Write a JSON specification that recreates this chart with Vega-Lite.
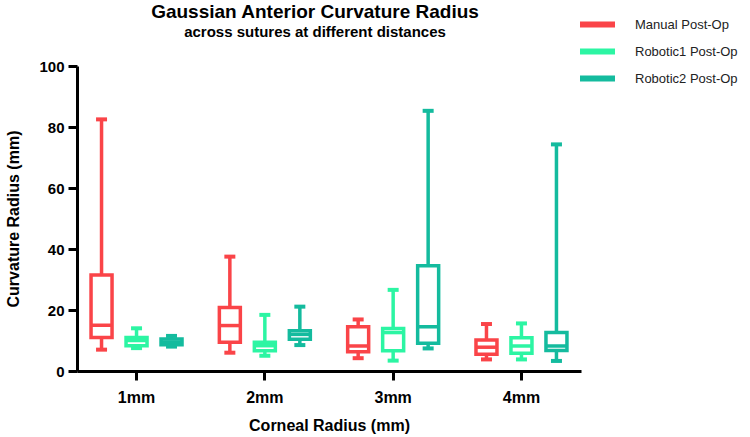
{
  "$schema": "https://vega.github.io/schema/vega-lite/v6.json",
  "autosize": "none",
  "width": 504,
  "height": 305,
  "padding": {"left": 77, "top": 66, "right": 169, "bottom": 66},
  "background": "white",
  "title": {
    "text": "Gaussian Anterior Curvature Radius",
    "subtitle": "across sutures at different distances",
    "anchor": "middle",
    "dx": -14,
    "offset": -33,
    "font": "Liberation Sans",
    "fontSize": 19,
    "fontWeight": "bold",
    "color": "black",
    "subtitleFont": "Liberation Sans",
    "subtitleFontSize": 15,
    "subtitleFontWeight": "bold",
    "subtitleColor": "black",
    "subtitlePadding": 3
  },
  "config": {
    "view": {"stroke": null},
    "font": "Liberation Sans"
  },
  "data": {
    "values": [
      {"dist": "1mm", "group": "Manual Post-Op", "min": 7, "q1": 11, "median": 15, "q3": 31.5, "max": 82.5},
      {"dist": "1mm", "group": "Robotic1 Post-Op", "min": 7.5, "q1": 8.3, "median": 10, "q3": 11, "max": 14},
      {"dist": "1mm", "group": "Robotic2 Post-Op", "min": 8, "q1": 8.6, "median": 9.5, "q3": 10.5, "max": 11.5},
      {"dist": "2mm", "group": "Manual Post-Op", "min": 6, "q1": 9.4, "median": 14.9, "q3": 20.8, "max": 37.5},
      {"dist": "2mm", "group": "Robotic1 Post-Op", "min": 5, "q1": 6.6, "median": 8.3, "q3": 9.4, "max": 18.4},
      {"dist": "2mm", "group": "Robotic2 Post-Op", "min": 8.5, "q1": 10.4, "median": 12, "q3": 13.2, "max": 21.1},
      {"dist": "3mm", "group": "Manual Post-Op", "min": 4.2, "q1": 6.3, "median": 8.2, "q3": 14.5, "max": 16.9},
      {"dist": "3mm", "group": "Robotic1 Post-Op", "min": 3.4, "q1": 6.6, "median": 12.6, "q3": 13.9, "max": 26.6},
      {"dist": "3mm", "group": "Robotic2 Post-Op", "min": 7.4, "q1": 9.1, "median": 14.5, "q3": 34.5, "max": 85.3},
      {"dist": "4mm", "group": "Manual Post-Op", "min": 3.8, "q1": 5.5, "median": 7.8, "q3": 10.2, "max": 15.4},
      {"dist": "4mm", "group": "Robotic1 Post-Op", "min": 3.8, "q1": 5.8, "median": 8.2, "q3": 10.9, "max": 15.6},
      {"dist": "4mm", "group": "Robotic2 Post-Op", "min": 3.3, "q1": 6.7, "median": 8.2, "q3": 12.6, "max": 74.3}
    ]
  },
  "encoding": {
    "x": {
      "field": "dist",
      "type": "nominal",
      "scale": {"paddingInner": 0.1, "paddingOuter": 0.014},
      "axis": {
        "title": "Corneal Radius (mm)",
        "titleFontSize": 16,
        "titleFontWeight": "bold",
        "titleColor": "black",
        "titlePadding": 12,
        "labelAngle": 0,
        "labelFontSize": 16,
        "labelFontWeight": "bold",
        "labelColor": "black",
        "labelPadding": 9,
        "domainColor": "black",
        "domainWidth": 3,
        "tickColor": "black",
        "tickWidth": 3,
        "tickSize": 9
      }
    },
    "xOffset": {
      "field": "group",
      "type": "nominal",
      "scale": {"paddingInner": 0.4, "paddingOuter": 0.35}
    },
    "color": {
      "field": "group",
      "type": "nominal",
      "scale": {
        "domain": ["Manual Post-Op", "Robotic1 Post-Op", "Robotic2 Post-Op"],
        "range": ["#FA4448", "#2CF5A3", "#14BB9E"]
      },
      "legend": {
        "title": null,
        "orient": "none",
        "legendX": 503,
        "legendY": -59,
        "symbolType": "M-1,-0.17H1V0.17H-1Z",
        "symbolSize": 1225,
        "symbolStrokeWidth": 0,
        "symbolOpacity": 1,
        "labelFontSize": 13,
        "labelColor": "#222222",
        "labelOffset": 20,
        "rowPadding": 2,
        "labelFont": "Liberation Sans"
      }
    }
  },
  "layer": [
    {
      "mark": {"type": "rule", "strokeWidth": 3.5},
      "encoding": {
        "y": {
          "field": "min",
          "type": "quantitative",
          "scale": {"domain": [0, 100], "nice": false},
          "axis": {
            "title": "Curvature Radius (mm)",
            "titleFontSize": 16,
            "titleFontWeight": "bold",
            "titleColor": "black",
            "titlePadding": 17,
            "values": [0, 20, 40, 60, 80, 100],
            "labelFontSize": 15,
            "labelFontWeight": "bold",
            "labelColor": "black",
            "labelPadding": 4,
            "grid": false,
            "domainColor": "black",
            "domainWidth": 3,
            "tickColor": "black",
            "tickWidth": 3,
            "tickSize": 9
          }
        },
        "y2": {"field": "max"}
      }
    },
    {
      "mark": {"type": "bar", "filled": false, "fill": "white", "strokeWidth": 3.5},
      "encoding": {
        "y": {"field": "q1", "type": "quantitative"},
        "y2": {"field": "q3"}
      }
    },
    {
      "mark": {"type": "tick", "orient": "horizontal", "thickness": 3.5, "size": 21, "opacity": 1},
      "encoding": {
        "y": {"field": "median", "type": "quantitative"}
      }
    },
    {
      "mark": {"type": "tick", "orient": "horizontal", "thickness": 4, "size": 11, "opacity": 1},
      "encoding": {
        "y": {"field": "max", "type": "quantitative"}
      }
    },
    {
      "mark": {"type": "tick", "orient": "horizontal", "thickness": 4, "size": 11, "opacity": 1},
      "encoding": {
        "y": {"field": "min", "type": "quantitative"}
      }
    }
  ]
}
